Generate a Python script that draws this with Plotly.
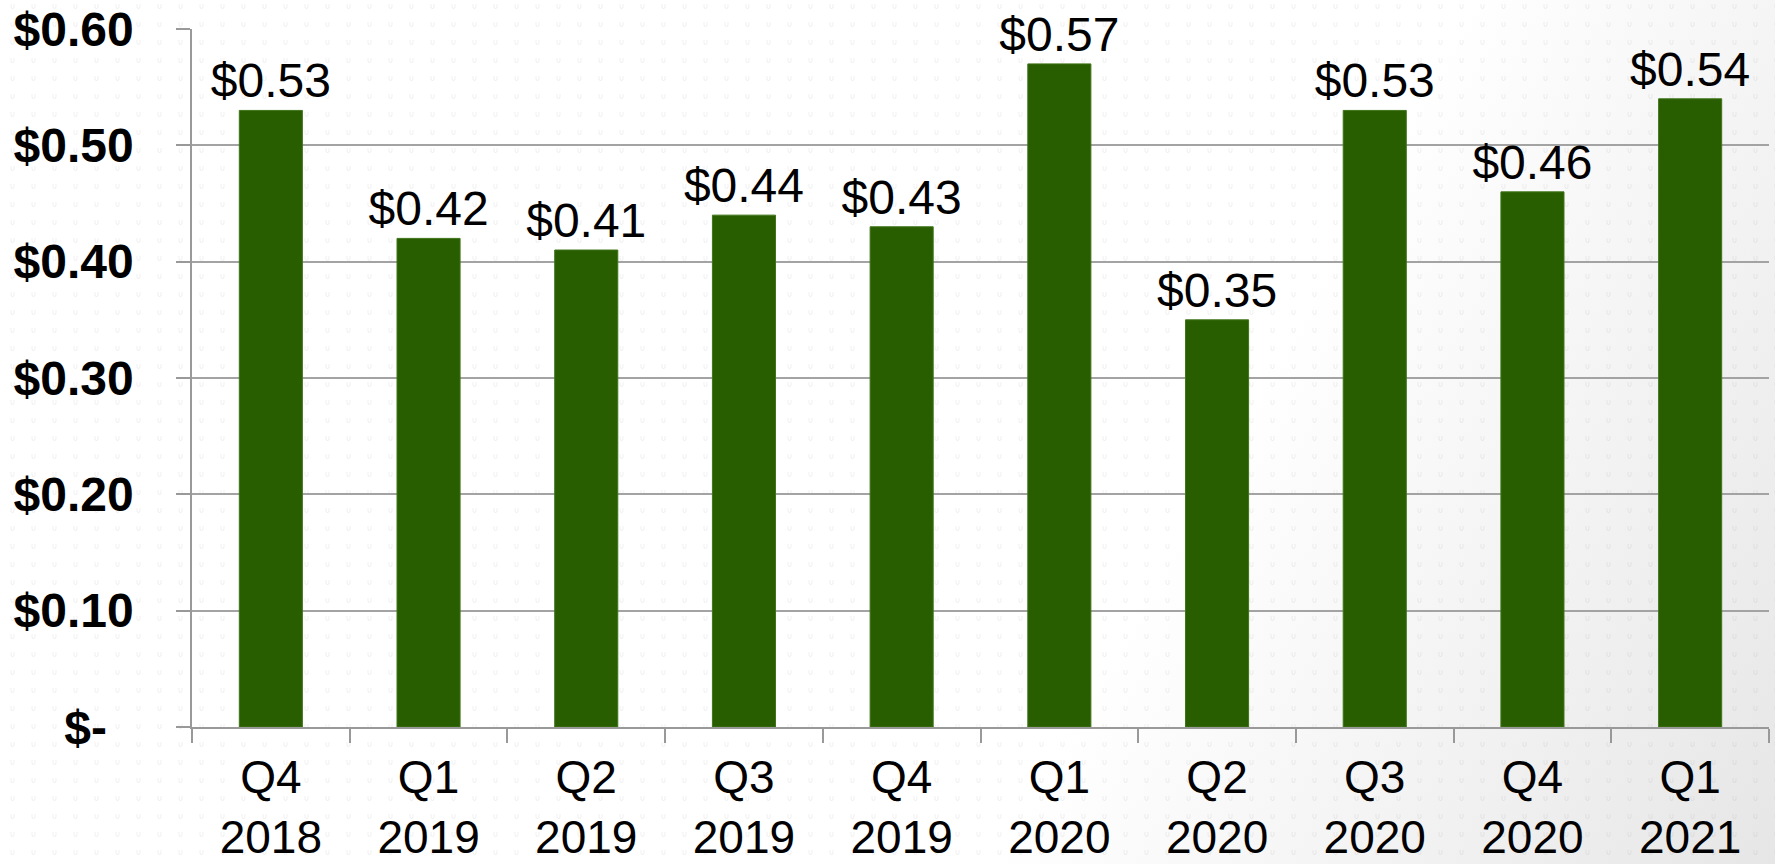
import base64
import plotly.graph_objects as go

quarters = ["Q4", "Q1", "Q2", "Q3", "Q4", "Q1", "Q2", "Q3", "Q4", "Q1"]
years = ["2018", "2019", "2019", "2019", "2019", "2020", "2020", "2020", "2020", "2021"]
values = [0.53, 0.42, 0.41, 0.44, 0.43, 0.57, 0.35, 0.53, 0.46, 0.54]
y_ticks = [0, 0.1, 0.2, 0.3, 0.4, 0.5, 0.6]
y_tick_text = ["$-\u00a0\u00a0", "$0.10", "$0.20", "$0.30", "$0.40", "$0.50", "$0.60"]

categories = [f"{q}<br>{y}" for q, y in zip(quarters, years)]

W, H = 1775, 864
ML, MR, MT, MB = 192, 6, 29, 137
PW, PH = W - ML - MR, H - MT - MB

svg = f"""<svg xmlns='http://www.w3.org/2000/svg' width='{W}' height='{H}' viewBox='0 0 {W} {H}' preserveAspectRatio='none'>
<defs>
<linearGradient id='g' x1='0.825' y1='0' x2='1.306' y2='0.129'>
<stop offset='0' stop-color='#ffffff'/>
<stop offset='1' stop-color='#e2e2e2'/>
</linearGradient>
<pattern id='p' width='21' height='18' patternUnits='userSpaceOnUse'>
<path d='M11 4 v3 a1.5 1.5 0 0 0 3 0 v-3' fill='none' stroke='#000000' stroke-opacity='0.07' stroke-width='0.8'/>
</pattern>
</defs>
<rect width='{W}' height='{H}' fill='url(#g)'/>
<rect width='{W}' height='{H}' fill='url(#p)'/>
</svg>"""
src = "data:image/svg+xml;base64," + base64.b64encode(svg.encode()).decode()

font = "Liberation Sans, Arial, sans-serif"

fig = go.Figure(
    go.Bar(
        x=categories,
        y=values,
        width=0.4,
        marker=dict(color="#295e00", line=dict(color="#3f7418", width=1)),
        texttemplate="$%{y:.2f}",
        textposition="outside",
        textfont=dict(family=font, size=48, color="#000000"),
        constraintext="none",
        cliponaxis=False,
    )
)

fig.update_layout(
    width=W,
    height=H,
    margin=dict(l=ML, r=MR, t=MT, b=MB, pad=0, autoexpand=False),
    paper_bgcolor="#ffffff",
    plot_bgcolor="rgba(0,0,0,0)",
    showlegend=False,
    bargap=0.6,
    images=[
        dict(
            source=src,
            xref="paper",
            yref="paper",
            x=-ML / PW,
            y=1 + MT / PH,
            sizex=W / PW,
            sizey=H / PH,
            sizing="stretch",
            xanchor="left",
            yanchor="top",
            layer="below",
        )
    ],
)

fig.update_xaxes(
    type="category",
    automargin=False,
    tickson="boundaries",
    ticks="outside",
    ticklen=14,
    tickwidth=1.5,
    tickcolor="#999999",
    showline=True,
    linecolor="#999999",
    linewidth=1.5,
    showgrid=False,
    tickfont=dict(family=font, size=46, color="#000000"),
    ticklabelstandoff=9,
    ticklabeloverflow="allow",
)

fig.update_yaxes(
    range=[0, 0.6],
    automargin=False,
    tickvals=y_ticks,
    ticktext=y_tick_text,
    ticks="outside",
    ticklen=14,
    tickwidth=1.5,
    tickcolor="#999999",
    showline=True,
    linecolor="#999999",
    linewidth=1.5,
    showgrid=True,
    gridcolor="#a3a3a3",
    gridwidth=1.5,
    zeroline=False,
    tickfont=dict(family=font, size=48, color="#000000", weight="bold"),
    ticklabelstandoff=33,
    ticklabeloverflow="allow",
)

fig.write_html(
    "out.html",
    config={"displayModeBar": False},
    post_script="document.body.style.margin='0';document.body.style.overflow='hidden';",
)
